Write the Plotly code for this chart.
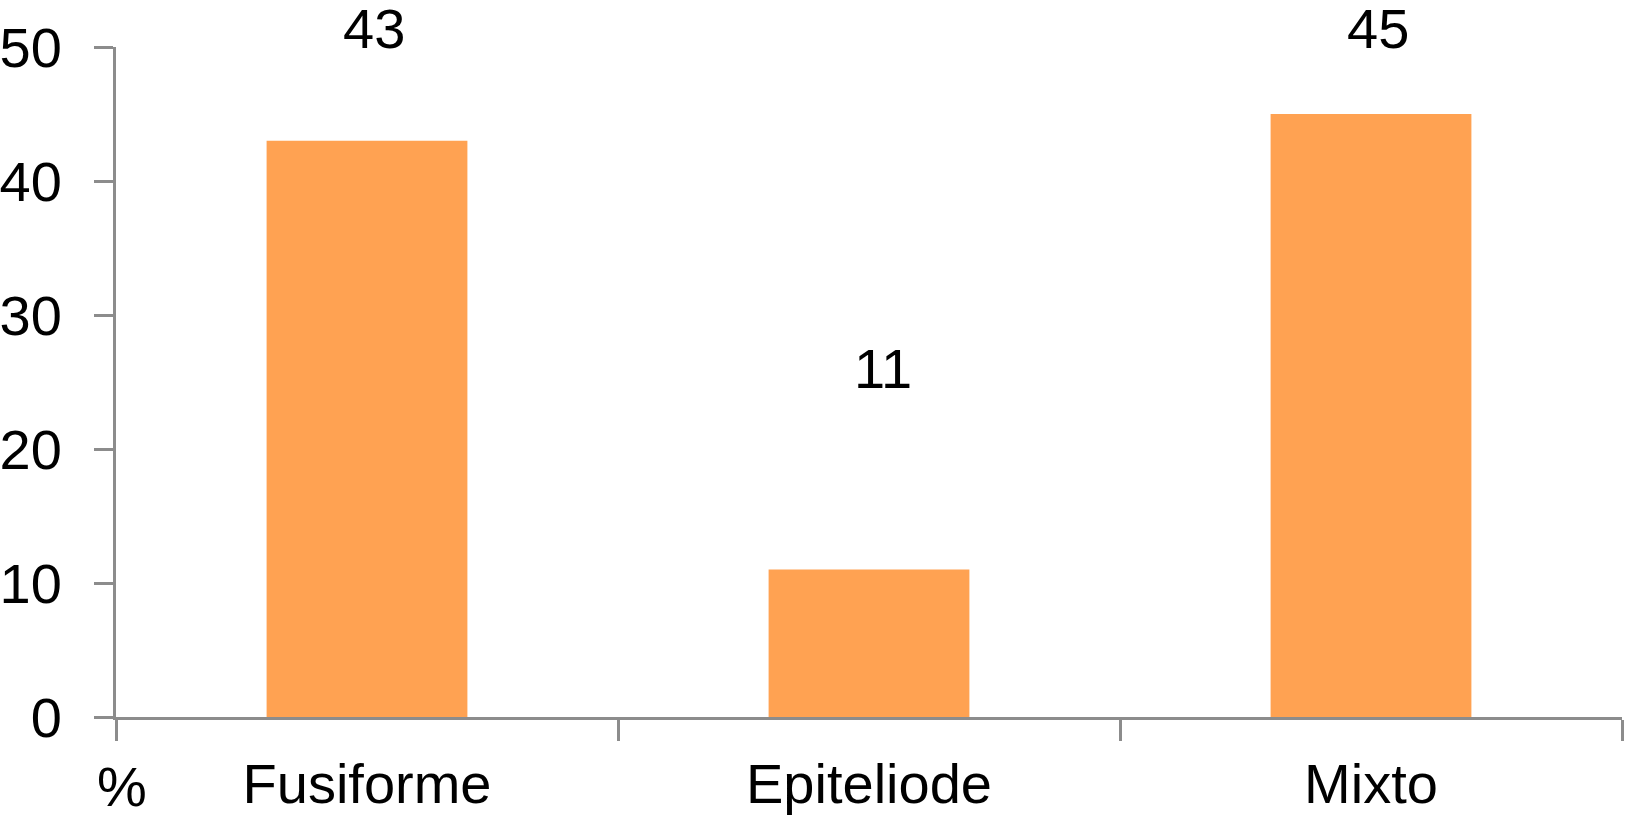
import plotly.graph_objects as go

categories = ["Fusiforme", "Epiteliode", "Mixto"]
values = [43, 11, 45]
y_ticks = [0, 10, 20, 30, 40, 50]
label_y = [51.35, 26.0, 51.35]
label_xshift = [7, 14, 7]

bar_color = "#FFA252"
axis_color = "#8C8C8C"
font_family = "Liberation Sans, Arial, Helvetica, sans-serif"
fs = 56
y_max = 50

W, H = 1625, 815
ml, mr, mt, mb = 116, 3, 47, 98
pw, ph = W - ml - mr, H - mt - mb

fig = go.Figure()
fig.add_trace(go.Bar(
    x=categories, y=values, width=0.4,
    marker=dict(color=bar_color, line=dict(width=0)),
    hoverinfo="x+y",
))

for i, (v, ly, xs) in enumerate(zip(values, label_y, label_xshift)):
    fig.add_annotation(x=(i + 0.5) / len(categories), y=ly / y_max, xref="paper", yref="paper",
                       text=str(v), showarrow=False, xshift=xs,
                       font=dict(size=fs, color="black", family=font_family),
                       xanchor="center", yanchor="middle")

# '%' unit label at bottom-left
fig.add_annotation(x=(122 - ml) / pw, y=(H - mb - 786) / ph, xref="paper", yref="paper",
                   text="%", showarrow=False,
                   font=dict(size=fs, color="black", family=font_family),
                   xanchor="center", yanchor="middle")

fig.update_layout(
    width=W, height=H,
    margin=dict(l=ml, r=mr, t=mt, b=mb, pad=0, autoexpand=False),
    plot_bgcolor="white", paper_bgcolor="white",
    showlegend=False,
    font=dict(family=font_family, size=fs, color="black"),
    xaxis=dict(
        type="category", range=[-0.5, 2.5], automargin=False,
        showline=True, linecolor=axis_color, linewidth=3,
        ticks="outside", tickson="boundaries", ticklen=21, tickwidth=3, tickcolor=axis_color,
        showgrid=False, zeroline=False,
        tickfont=dict(size=fs, color="black", family=font_family),
        ticklabelstandoff=16,
    ),
    yaxis=dict(
        range=[0, y_max], tickvals=y_ticks, ticktext=[str(t) for t in y_ticks], automargin=False,
        showline=True, linecolor=axis_color, linewidth=3,
        ticks="outside", ticklen=19, tickwidth=3, tickcolor=axis_color,
        showgrid=False, zeroline=False,
        tickfont=dict(size=fs, color="black", family=font_family),
        ticklabelstandoff=21,
    ),
)

fig.write_html("out.html", config={"displayModeBar": False},
               post_script="document.body.style.margin='0px';document.body.style.padding='0px';")
